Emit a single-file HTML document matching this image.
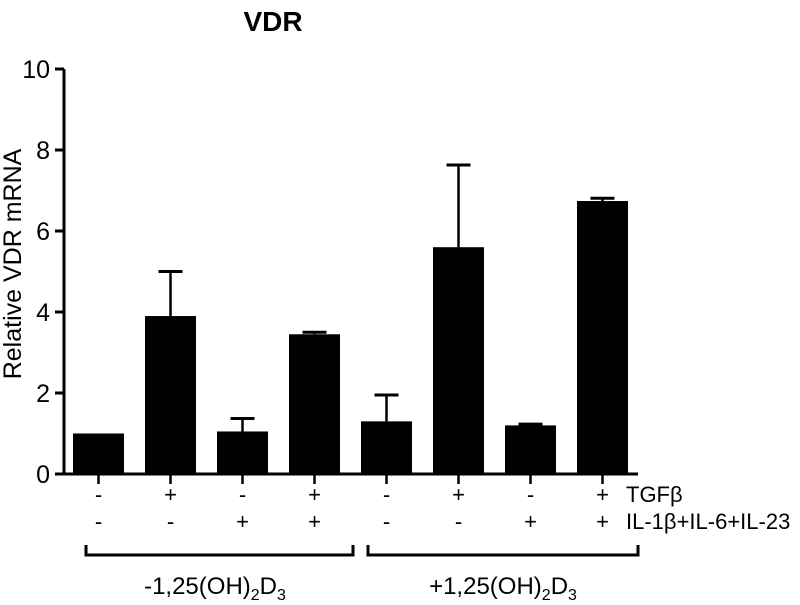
<!DOCTYPE html>
<html><head><meta charset="utf-8"><style>
body{margin:0;background:#fff;position:relative}
svg text{font-family:"Liberation Sans",Arial,sans-serif;fill:#000}
</style></head><body>
<svg id="c" width="800" height="600"></svg>
<script>
const categories=["1","2","3","4","5","6","7","8"];
const values=[1.0,3.9,1.05,3.45,1.3,5.6,1.2,6.74];
const errors=[0,1.1,0.32,0.05,0.65,2.03,0.03,0.07];
const tgfRow=["-","+","-","+","-","+","-","+"];
const ilRow=["-","-","+","+","-","-","+","+"];
const yTicks=[0,2,4,6,8,10];
const svg=document.getElementById('c');
const NS="http://www.w3.org/2000/svg";
function el(t,a,txt){const e=document.createElementNS(NS,t);for(const k in a)e.setAttribute(k,a[k]);if(txt!==undefined)e.textContent=txt;svg.appendChild(e);return e;}
const y0=474,pxU=40.5;
function y(v){return y0-v*pxU;}
function xc(i){return 98.5+i*72;}
let e=el('line',{x1:64,y1:y(10),x2:64,y2:y0+1,stroke:'#000','stroke-width':3});


e=el('line',{x1:63,y1:y0,x2:638,y2:y0,stroke:'#000','stroke-width':3});


yTicks.forEach(t=>{
 let l=el('line',{x1:55,y1:y(t),x2:64,y2:y(t),stroke:'#000','stroke-width':3});
 
 
 let tx=el('text',{x:50,y:y(t)+9,'text-anchor':'end','font-size':25},String(t));
 
 
});
categories.forEach((c,i)=>{
 const cx=xc(i);
 let b=el('rect',{x:cx-25.5,y:y(values[i]),width:51,height:y0-y(values[i]),fill:'#000'});
 
 
 if(errors[i]>0){
  let v=el('line',{x1:cx,y1:y(values[i]),x2:cx,y2:y(values[i]+errors[i]),stroke:'#000','stroke-width':2.5});
  
  
  let h=el('line',{x1:cx-12,y1:y(values[i]+errors[i]),x2:cx+12,y2:y(values[i]+errors[i]),stroke:'#000','stroke-width':3});
  
  
 }
 let tk=el('line',{x1:cx,y1:y0,x2:cx,y2:y0+10,stroke:'#000','stroke-width':2.5});
 
 
 let t1=el('text',{x:cx,y:502,'text-anchor':'middle','font-size':22},tgfRow[i]);
 
 
 let t2=el('text',{x:cx,y:529,'text-anchor':'middle','font-size':22},ilRow[i]);
 
 
});
</script>
<svg width="800" height="600" style="position:absolute;left:0;top:0">
<text x="273" y="31" text-anchor="middle" font-size="28" font-weight="bold">VDR</text>
<text transform="translate(21,264) rotate(-90)" text-anchor="middle" font-size="25">Relative VDR mRNA</text>
<text x="626" y="502" font-size="22">TGFβ</text>
<text x="626" y="529" font-size="22">IL-1β+IL-6+IL-23</text>
<path d="M86,545 V555 H353 V545" fill="none" stroke="#000" stroke-width="3"/>
<path d="M368,545 V555 H638 V545" fill="none" stroke="#000" stroke-width="3"/>
<text x="215" y="594" text-anchor="middle" font-size="24">-1,25(OH)<tspan font-size="16" dy="6">2</tspan><tspan dy="-6">D</tspan><tspan font-size="16" dy="6">3</tspan></text>
<text x="503" y="594" text-anchor="middle" font-size="24">+1,25(OH)<tspan font-size="16" dy="6">2</tspan><tspan dy="-6">D</tspan><tspan font-size="16" dy="6">3</tspan></text>
</svg>
</body></html>
